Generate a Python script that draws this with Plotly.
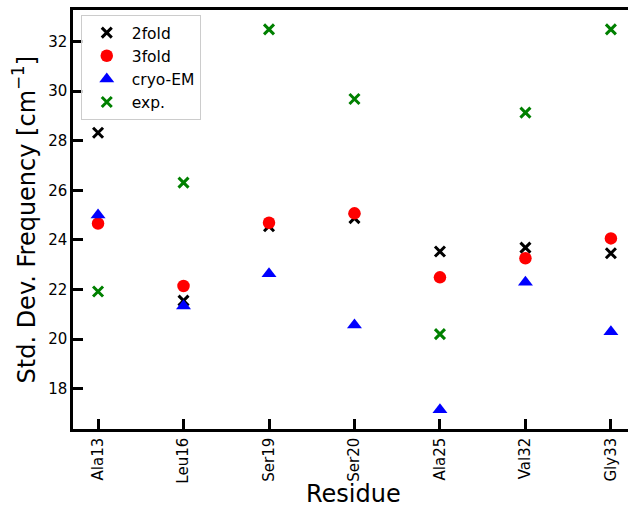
import plotly.graph_objects as go

residues = ["Ala13", "Leu16", "Ser19", "Ser20", "Ala25", "Val32", "Gly33"]
twofold = [28.32, 21.55, 24.55, 24.88, 23.53, 23.69, 23.46]
threefold = [24.66, 22.14, 24.69, 25.07, 22.49, 23.26, 24.06]
cryo_em = [25.0, 21.33, 22.63, 20.57, 17.15, 22.29, 20.3]
exp_vals = [21.92, 26.31, 32.49, 29.68, 20.2, 29.13, 32.49]
y_ticks = [18, 20, 22, 24, 26, 28, 30, 32]

xi = list(range(len(residues)))
FONT = "DejaVu Sans"

fig = go.Figure()
fig.add_trace(go.Scatter(x=xi, y=twofold, mode="markers", name="2fold",
                         marker=dict(symbol="x-thin", size=10, color="black",
                                     line=dict(width=3, color="black"))))
fig.add_trace(go.Scatter(x=xi, y=threefold, mode="markers", name="3fold",
                         marker=dict(symbol="circle", size=12.5, color="red",
                                     line=dict(width=0))))
fig.add_trace(go.Scatter(x=xi, y=cryo_em, mode="markers", name="cryo-EM",
                         marker=dict(symbol="triangle-up", size=13, color="blue",
                                     line=dict(width=0))))
fig.add_trace(go.Scatter(x=xi, y=exp_vals, mode="markers", name="exp.",
                         marker=dict(symbol="x-thin", size=10, color="green",
                                     line=dict(width=3, color="green"))))

fig.update_layout(
    width=628, height=510,
    margin=dict(l=73, r=0, t=10, b=81),
    plot_bgcolor="white", paper_bgcolor="white",
    font=dict(family=FONT, color="black", size=15),
    showlegend=True,
    legend=dict(x=0.014, y=0.988, xanchor="left", yanchor="top",
                bgcolor="rgba(255,255,255,0.8)", bordercolor="#cccccc",
                borderwidth=1, itemwidth=40,
                font=dict(size=15.5, family=FONT)),
    annotations=[
        dict(text="Residue", x=0.5063, y=-0.1933, xref="paper", yref="paper",
             xanchor="center", yanchor="bottom", showarrow=False,
             font=dict(size=24, family=FONT, color="black")),
        dict(text="Std. Dev. Frequency [cm<sup>\u22121</sup>]", x=-0.0883, y=0.5,
             xref="paper", yref="paper", xanchor="center", yanchor="middle",
             textangle=-90, showarrow=False,
             font=dict(size=24, family=FONT, color="black")),
    ],
)
fig.update_xaxes(
    range=[-0.293, 6.2],
    tickmode="array", tickvals=xi, ticktext=residues, tickangle=-90,
    ticks="inside", ticklen=10, tickwidth=2.5, tickcolor="black",
    showline=True, linewidth=2.5, linecolor="black", mirror=True,
    showgrid=False, zeroline=False,
    tickfont=dict(size=15, family=FONT),
)
fig.update_yaxes(
    range=[16.375, 33.27],
    tickmode="array", tickvals=y_ticks,
    ticks="inside", ticklen=10, tickwidth=2.5, tickcolor="black",
    showline=True, linewidth=2.5, linecolor="black", mirror=False,
    showgrid=False, zeroline=False,
    tickfont=dict(size=15, family=FONT),
)

fig.write_html("out.html", config={"displayModeBar": False},
               post_script="document.body.style.margin='0';")
